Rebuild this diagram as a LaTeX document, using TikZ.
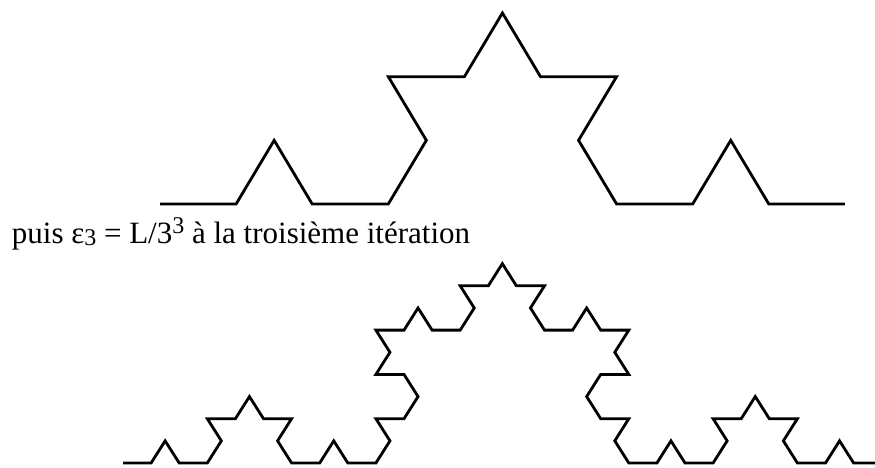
\documentclass[tikz,border=0pt]{standalone}
\usepackage{fontspec}
\setmainfont{Liberation Serif}
\begin{document}
\begin{tikzpicture}[x=1pt,y=1pt,
  koch/.style={line width=2.8pt, black, line join=miter}]
\useasboundingbox (0,0) rectangle (875,467);
% iteration 2
\begin{scope}[shift={(160,263)}, yscale=0.966]
\coordinate (s2) at (0,0);
\draw[koch] (s2) \foreach \k [evaluate={\k as \a using 60*(equal(mod(\k,4),1)-equal(mod(\k,4),2)+equal(mod(int(\k/4),4),1)-equal(mod(int(\k/4),4),2))}] in {0,...,15} { -- ++(\a:76.1) };
\end{scope}
% text
\node[anchor=base west, inner sep=0pt, font=\fontsize{31}{31}\selectfont] (txt) at (11.7,224)
  {puis ε\raisebox{-2pt}{\fontsize{24}{24}\selectfont 3} = L/3\raisebox{10pt}{\fontsize{24}{24}\selectfont 3} à la troisième itération};
% iteration 3
\begin{scope}[shift={(123,4)}, yscale=0.91]
\coordinate (s3) at (0,0);
\draw[koch] (s3) \foreach \k [evaluate={\k as \a using 60*(equal(mod(\k,4),1)-equal(mod(\k,4),2)+equal(mod(int(\k/4),4),1)-equal(mod(int(\k/4),4),2)+equal(mod(int(\k/16),4),1)-equal(mod(int(\k/16),4),2))}] in {0,...,63} { -- ++(\a:28.1) };
\end{scope}
\end{tikzpicture}
\end{document}
